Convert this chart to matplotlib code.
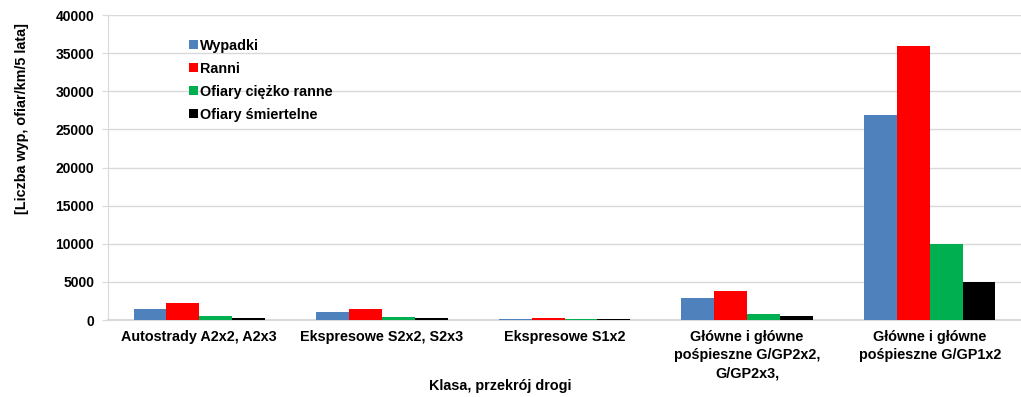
import numpy as np
import matplotlib
matplotlib.use("Agg")
import matplotlib.pyplot as plt

plt.rcParams['font.family'] = ['Liberation Sans', 'DejaVu Sans']
plt.rcParams['font.weight'] = 'bold'

categories = [
    "Autostrady A2x2, A2x3",
    "Ekspresowe S2x2, S2x3",
    "Ekspresowe S1x2",
    "Główne i główne\npośpieszne G/GP2x2,\nG/GP2x3,",
    "Główne i główne\npośpieszne G/GP1x2",
]
series_names = ["Wypadki", "Ranni", "Ofiary ciężko ranne", "Ofiary śmiertelne"]
wypadki = [1500, 1100, 170, 2850, 26900]
ranni = [2250, 1500, 300, 3750, 36000]
ciezko_ranne = [470, 430, 170, 740, 10000]
smiertelne = [300, 260, 170, 480, 5000]
colors = ["#4F81BD", "#FF0000", "#00B050", "#000000"]
yticks = [0, 5000, 10000, 15000, 20000, 25000, 30000, 35000, 40000]

FS = 10.4

fig = plt.figure(figsize=(10.21, 3.97), dpi=100)
ax = fig.add_axes([108 / 1021, 1 - 320 / 397, 913 / 1021, 305 / 397])

x = np.arange(len(categories))
width = 0.18
all_series = [wypadki, ranni, ciezko_ranne, smiertelne]
for i, (vals, name, col) in enumerate(zip(all_series, series_names, colors)):
    ax.bar(x + (i - 1.5) * width, vals, width, color=col, label=name, zorder=3)

ax.set_xlim(-0.5, len(categories) - 0.5)
ax.set_ylim(0, 40000)
ax.set_yticks(yticks)
ax.set_yticklabels([str(v) for v in yticks], fontsize=10, fontweight='bold')
ax.set_xticks(x)
ax.set_xticklabels(categories, fontsize=FS, fontweight='bold', linespacing=1.42)
ax.tick_params(axis='x', length=0, pad=7)
ax.tick_params(axis='y', length=4, color='#d9d9d9', pad=6)
ax.grid(axis='y', color='#d9d9d9', linewidth=1, zorder=0)
for s in ['top', 'right']:
    ax.spines[s].set_visible(False)
ax.spines['left'].set_color('#d9d9d9')
ax.spines['bottom'].set_color('#d9d9d9')
ax.spines['bottom'].set_linewidth(1.5)

ax.set_ylabel("[Liczba wyp, ofiar/km/5 lata]", fontsize=FS, fontweight='bold')
ax.yaxis.set_label_coords(-0.087, 0.662)
ax.set_xlabel("Klasa, przekrój drogi", fontsize=FS, fontweight='bold')
ax.xaxis.set_label_coords(0.43, -0.195)

ax.legend(loc='upper left', bbox_to_anchor=(0.075, 0.965), frameon=False,
          handlelength=0.6, handleheight=0.6, handletextpad=0.15,
          labelspacing=0.63, prop={'size': FS, 'weight': 'bold'})

fig.savefig("out.png", dpi=100)
